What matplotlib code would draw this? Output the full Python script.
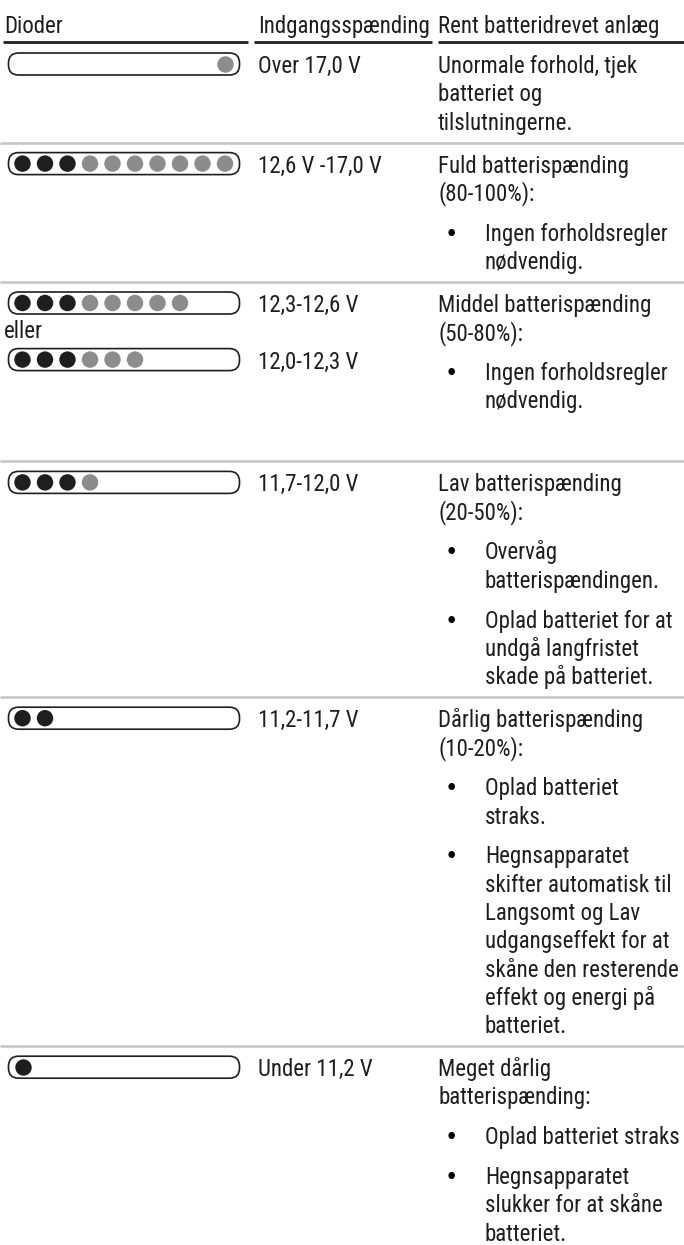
import matplotlib
matplotlib.use("Agg")
import matplotlib.pyplot as plt
from matplotlib import font_manager as fm
from matplotlib.patches import FancyBboxPatch

# --- table content ---
headers = ["Dioder", "Indgangsspænding", "Rent batteridrevet anlæg"]

# one string per LED bar, 10 positions: b = lit (black), g = lit (grey), space = off
led_patterns = [
    ["         g"],
    ["bbbggggggg"],
    ["bbbggggg", "bbbggg"],
    ["bbbg"],
    ["bb"],
    ["b"],
]
alt_word = "eller"

voltages = [
    ["Over 17,0 V"],
    ["12,6 V -17,0 V"],
    ["12,3-12,6 V", "12,0-12,3 V"],
    ["11,7-12,0 V"],
    ["11,2-11,7 V"],
    ["Under 11,2 V"],
]

status = [
    ["Unormale forhold, tjek", "batteriet og", "tilslutningerne."],
    ["Fuld batterispænding", "(80-100%):"],
    ["Middel batterispænding", "(50-80%):"],
    ["Lav batterispænding", "(20-50%):"],
    ["Dårlig batterispænding", "(10-20%):"],
    ["Meget dårlig", "batterispænding:"],
]

actions = [
    [],
    [["Ingen forholdsregler", "nødvendig."]],
    [["Ingen forholdsregler", "nødvendig."]],
    [["Overvåg", "batterispændingen."],
     ["Oplad batteriet for at", "undgå langfristet", "skade på batteriet."]],
    [["Oplad batteriet", "straks."],
     ["Hegnsapparatet", "skifter automatisk til", "Langsomt og Lav",
      "udgangseffekt for at", "skåne den resterende", "effekt og energi på",
      "batteriet."]],
    [["Oplad batteriet straks"],
     ["Hegnsapparatet", "slukker for at skåne", "batteriet."]],
]


# the original uses a condensed sans; take one if the machine has it
def pick_font():
    prefer = ["Liberation Sans Narrow", "Roboto Condensed", "Noto Sans",
              "Open Sans", "DejaVu Sans"]
    found = []
    for f in fm.fontManager.ttflist:
        if f.style != "normal" or str(f.weight) not in ("400", "normal", "regular"):
            continue
        if f.stretch in ("condensed", "semi-condensed") or "Narrow" in f.name \
                or "Condensed" in f.name:
            found.append(f)
    for p in prefer:
        for f in found:
            if f.name.startswith(p):
                return f.name, f.stretch
    if found:
        return found[0].name, found[0].stretch
    return "Liberation Sans", "normal"


FAMILY, STRETCH = pick_font()
FONT = [FAMILY, "DejaVu Sans"]

# --- layout / style ---
W, H = 684, 1245
INK = "#1e1e1e"
LED_GREY = "#8c8c8c"
RULE_GREY = "#c4c4c4"

col_x = [4, 258, 438]
bullet_x, bullet_text_x = 445, 485
head_rules = [(3, 248), (254, 432), (438, 684)]
step, gap = 28.3, 39.8
row_extra = [0, 0, 40, 0, 0, 0]

fig = plt.figure(figsize=(W / 100, H / 100), dpi=100)
ax = fig.add_axes([0, 0, 1, 1])
ax.set_xlim(0, W)
ax.set_ylim(H, 0)
ax.axis("off")

# size the font so the widest header spans what it does in the original
probe = ax.text(0, 0, headers[2], fontsize=10, family=FONT, fontstretch=STRETCH)
fig.canvas.draw()
w10 = probe.get_window_extent().width
probe.remove()
FS = min(16.5, 10 * 232 / w10)


def txt(x, y, s):
    ax.text(x, y, s, fontsize=FS, family=FONT, fontstretch=STRETCH, color=INK,
            va="baseline", ha="left")


for x, h in zip(col_x, headers):
    txt(x, 33, h)
for x0, x1 in head_rules:
    ax.plot([x0, x1], [42, 42], color=INK, lw=2.0, solid_capstyle="butt")

y_sep = 43
for i in range(len(led_patterns)):
    base0 = y_sep + 30

    # diode bars + voltage text
    for k, pat in enumerate(led_patterns[i]):
        base = base0 + 2 * k * step
        cy = base - 9
        ax.add_patch(FancyBboxPatch((8.5, cy - 11), 231, 22,
                                    boxstyle="round,pad=0,rounding_size=10",
                                    fc="white", ec=INK, lw=1.2, zorder=2))
        xs = [22.5 + 22.5 * j for j, c in enumerate(pat) if c != " "]
        cs = [INK if c == "b" else LED_GREY for c in pat if c != " "]
        ax.scatter(xs, [cy] * len(xs), s=140, c=cs, linewidths=0, zorder=3)
        txt(col_x[1], base, voltages[i][k])
        if k > 0:
            txt(col_x[0], base - step - 2, alt_word)

    # description column
    y = base0
    for line in status[i]:
        txt(col_x[2], y, line)
        y += step
    last = y - step
    for para in actions[i]:
        y = last + gap
        ax.text(bullet_x, y, "•", fontsize=FS, family="DejaVu Sans",
                color="black", va="baseline", ha="left")
        for line in para:
            txt(bullet_text_x, y, line)
            y += step
        last = y - step
    last += row_extra[i]

    y_sep = last + 13
    if i < len(led_patterns) - 1:
        ax.plot([0, W], [y_sep, y_sep], color=RULE_GREY, lw=1.8, solid_capstyle="butt")

fig.savefig("out.png", dpi=100, facecolor="white")
